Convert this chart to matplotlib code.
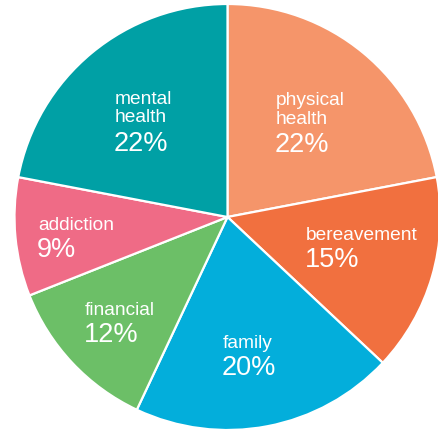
import matplotlib.pyplot as plt

# dados do gráfico
categorias = ["physical\nhealth", "bereavement", "family", "financial", "addiction", "mental\nhealth"]
valores = [22, 15, 20, 12, 9, 22]
cores = ["#F5956A", "#F1703F", "#03AEDB", "#6CBF67", "#EF6B86", "#00A0A5"]

# posição dos rótulos em pixels (x esquerda, linha de base do nome, linha de base do %)
pos_rotulos = [(276, 105, 152), (306, 240, 267), (223, 348, 375),
               (85, 315, 342), (38, 230, 257), (115, 104, 151)]

W, H = 439, 432
cx, cy, R = 227.5, 217, 213


def px(x, y):
    return (x - cx) / R, (cy - y) / R


fig = plt.figure(figsize=(W / 100, H / 100), dpi=100)
ax = fig.add_axes([0, 0, 1, 1])
ax.pie(valores, colors=cores, startangle=90, counterclock=False,
       radius=1.0, wedgeprops=dict(edgecolor="white", linewidth=1.6))
ax.set_xlim(-cx / R, (W - cx) / R)
ax.set_ylim(-(H - cy) / R, cy / R)
ax.set_aspect("auto")
ax.axis("off")

fonte = "Liberation Sans"
for nome, v, (x, yb, yp) in zip(categorias, valores, pos_rotulos):
    for i, linha in enumerate(nome.split("\n")):
        ax.text(*px(x, yb + i * 18.5), linha, color="white", fontsize=13.8,
                family=fonte, ha="left", va="baseline")
    ax.text(*px(x - 1, yp), f"{v}%", color="white", fontsize=19.5, family=fonte,
            ha="left", va="baseline")

fig.savefig("out.png", dpi=100)
